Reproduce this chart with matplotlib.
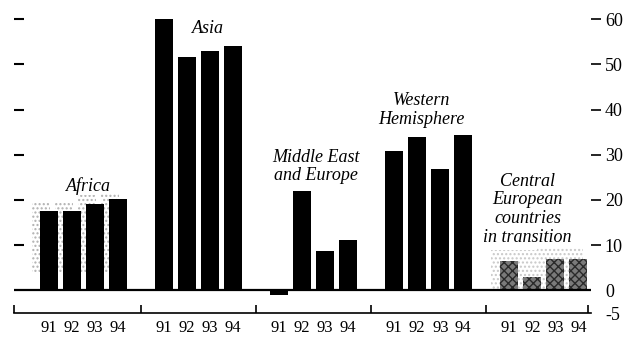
import matplotlib
matplotlib.use("Agg")
import matplotlib.pyplot as plt
import numpy as np

plt.rcParams['font.family'] = ['Liberation Serif', 'DejaVu Serif']
plt.rcParams['axes.unicode_minus'] = False
plt.rcParams['hatch.linewidth'] = 1.0

# data
years = ['91', '92', '93', '94']
regions = ['Africa', 'Asia', 'Middle East\nand Europe', 'Western\nHemisphere',
           'Central\nEuropean\ncountries\nin transition']
africa = [17.6, 17.6, 19.0, 20.3]
asia = [60.0, 51.6, 52.9, 54.0]
middle_east = [-1.0, 22.0, 8.7, 11.2]
western = [30.8, 33.9, 26.8, 34.4]
central = [6.5, 3.0, 7.0, 7.0]
# stippled shading behind Africa and Central Europe
africa_shade = [19.5, 19.5, 21.0, 21.5]
central_shade = [9.0, 9.0, 9.5, 9.5]

right_ticks = [-5, 0, 10, 20, 30, 40, 50, 60]
left_ticks = [10, 20, 30, 40, 50, 60]

series = [africa, asia, middle_east, western, central]
group_step = 5
width = 0.78

fig = plt.figure(figsize=(6.29, 3.37), dpi=100)
ax = fig.add_axes([0.0223, 0.0712, 0.9173, 0.9258])

x_base = np.arange(len(years))

# shaded bars behind
ax.bar(x_base - 0.35, np.array(africa_shade) - 4, bottom=4, width=width,
       color='none', edgecolor='#b0b0b0', hatch='....', linewidth=0, zorder=1)
cx = x_base + 4 * group_step
ax.bar(cx - 0.3, central_shade, width=1.0, color='none', edgecolor='#c8c8c8',
       hatch='....', linewidth=0, zorder=1)

for g, vals in enumerate(series):
    xs = x_base + g * group_step
    if g == 4:
        ax.bar(xs, vals, width=width, color='#7a7a7a', edgecolor='#2a2a2a',
               hatch='xxxx', linewidth=0, zorder=2)
    else:
        ax.bar(xs, vals, width=width, color='black', zorder=2)

# region labels
label_pos = [(1.7, 21.0, 'bottom'), (6.9, 58.0, 'center'), (11.6, 27.4, 'center'),
             (16.2, 40.0, 'center'), (20.8, 17.9, 'center')]
for name, (lx, ly, va) in zip(regions, label_pos):
    ax.text(lx, ly, name, ha='center', va=va, fontsize=13, style='italic',
            linespacing=1.15, zorder=3)

ax.axhline(0, color='black', linewidth=1.6, zorder=2)

ax.set_xlim(-1.52, 23.55)
ax.set_ylim(-5, 64)

for s in ['top', 'right', 'left']:
    ax.spines[s].set_visible(False)
ax.spines['bottom'].set_linewidth(1.2)

# x axis: separators as major ticks, years as minor labels
seps = [-1.5, 4, 9, 14, 19, 23.4]
ax.set_xticks(seps)
ax.set_xticklabels([])
ax.tick_params(axis='x', which='major', direction='in', length=6, width=1.2)
centers = np.concatenate([x_base + g * group_step for g in range(len(series))])
ax.set_xticks(centers, minor=True)
ax.set_xticklabels(years * len(series), minor=True, fontsize=12)
ax.tick_params(axis='x', which='minor', length=0, pad=5)

# left ticks, no labels
ax.set_yticks(left_ticks)
ax.set_yticklabels([])
ax.tick_params(axis='y', direction='in', length=7, width=1.5)

# right axis with labels
ax2 = ax.twinx()
ax2.set_ylim(ax.get_ylim())
for s in ['top', 'right', 'left', 'bottom']:
    ax2.spines[s].set_visible(False)
ax2.set_yticks(right_ticks)
ax2.set_yticklabels([str(t) for t in right_ticks], fontsize=13)
ax2.tick_params(axis='y', direction='out', length=7, width=1.2, pad=3)
for t in ax2.yaxis.get_major_ticks()[:2]:
    t.tick2line.set_visible(False)

fig.savefig('out.png', dpi=100)
